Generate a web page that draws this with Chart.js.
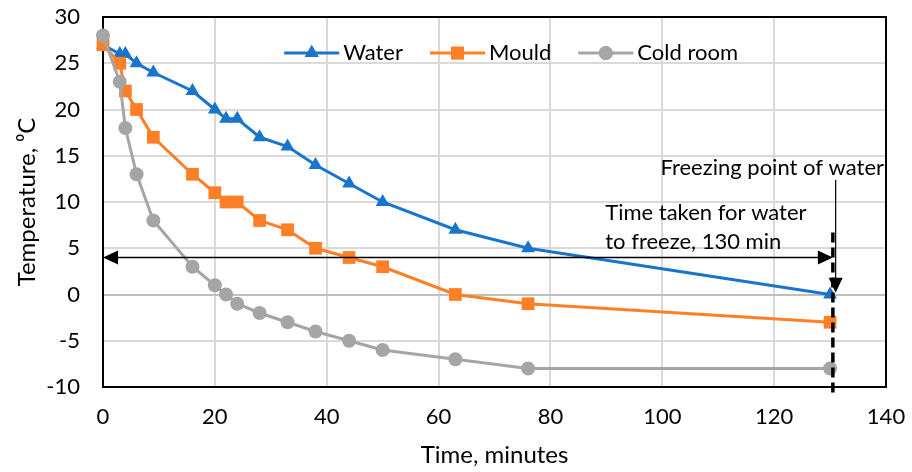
<!DOCTYPE html>
<html>
<head>
<meta charset="utf-8">
<script src="https://cdn.jsdelivr.net/npm/chart.js@4.4.0/dist/chart.umd.min.js"></script>
<style>
  html, body { margin: 0; padding: 0; background: #fff; }
  #wrap { width: 912px; height: 472px; }
</style>
</head>
<body>
<div id="wrap"><canvas id="chart" width="912" height="472"></canvas></div>
<script>
// data
const times    = [0, 3, 4, 6, 9, 16, 20, 22, 24, 28, 33, 38, 44, 50, 63, 76, 130];
const water    = [27, 26, 26, 25, 24, 22, 20, 19, 19, 17, 16, 14, 12, 10, 7, 5, 0];
const mould    = [27, 25, 22, 20, 17, 13, 11, 10, 10, 8, 7, 5, 4, 3, 0, -1, -3];
const coldRoom = [28, 23, 18, 13, 8, 3, 1, 0, -1, -2, -3, -4, -5, -6, -7, -8, -8];
const seriesNames = ['Water', 'Mould', 'Cold room'];
const xTickValues = [0, 20, 40, 60, 80, 100, 120, 140];
const yTickValues = [-10, -5, 0, 5, 10, 15, 20, 25, 30];

// annotation text + anchors (in data units)
const freezeTime = 130.5;
const spanLevel = 4;
const spanNote = ['Time taken for water', 'to freeze, 130 min'];
const freezeNote = 'Freezing point of water';

const FONT = 'Lato, "Open Sans", sans-serif';
const colors = { water: '#1874CD', mould: '#FF7F27', cold: '#A5A5A5' };

const mk = (vals) => times.map((t, i) => ({ x: t, y: vals[i] }));
const datasets = [
    { label: seriesNames[0], data: mk(water), borderColor: colors.water, backgroundColor: colors.water, pointStyle: 'triangle', pointRadius: 8, order: 2 },
    { label: seriesNames[1], data: mk(mould), borderColor: colors.mould, backgroundColor: colors.mould, pointStyle: 'rect', pointRadius: 9, order: 1 },
    { label: seriesNames[2], data: mk(coldRoom), borderColor: colors.cold, backgroundColor: colors.cold, pointStyle: 'circle', pointRadius: 7, order: 0 }
].map(d => Object.assign(d, { showLine: true, borderWidth: 3, pointBorderWidth: 0, pointHoverRadius: d.pointRadius, clip: false, tension: 0 }));

function arrowHead(ctx, x, y, dir, len, half) {
    ctx.beginPath();
    ctx.moveTo(x, y);
    if (dir === 'left') { ctx.lineTo(x + len, y - half); ctx.lineTo(x + len, y + half); }
    if (dir === 'right') { ctx.lineTo(x - len, y - half); ctx.lineTo(x - len, y + half); }
    if (dir === 'down') { ctx.lineTo(x - half, y - len); ctx.lineTo(x + half, y - len); }
    ctx.closePath();
    ctx.fill();
}

const framePlugin = {
    id: 'frame',
    beforeDatasetsDraw(chart) {
        const { ctx, chartArea: a } = chart;
        ctx.save();
        ctx.strokeStyle = '#000'; ctx.lineWidth = 2;
        ctx.strokeRect(a.left, a.top, a.right - a.left, a.bottom - a.top);
        ctx.restore();
    }
};

const notesPlugin = {
    id: 'notes',
    afterDatasetsDraw(chart) {
        const { ctx, chartArea: a, scales: { x, y } } = chart;
        ctx.save();
        ctx.fillStyle = '#000'; ctx.strokeStyle = '#000';

        // legend inside the plot
        ctx.font = '22px ' + FONT;
        ctx.textBaseline = 'middle'; ctx.textAlign = 'left';
        let lx = x.getPixelForValue(32.4);
        const ly = y.getPixelForValue(26.1);
        chart.data.datasets.forEach(ds => {
            ctx.strokeStyle = ds.borderColor; ctx.lineWidth = 3;
            ctx.beginPath(); ctx.moveTo(lx, ly); ctx.lineTo(lx + 55, ly); ctx.stroke();
            ctx.fillStyle = ds.backgroundColor;
            Chart.helpers.drawPoint(ctx, { pointStyle: ds.pointStyle, radius: ds.pointRadius, rotation: 0, borderWidth: 0 }, lx + 27.5, ly);
            ctx.fill();
            ctx.fillStyle = '#000';
            ctx.fillText(ds.label, lx + 59, ly);
            lx += 59 + ctx.measureText(ds.label).width + 27;
        });

        // horizontal double arrow, 0 -> 130 min
        const yS = y.getPixelForValue(spanLevel);
        const x0 = x.getPixelForValue(0), x1 = x.getPixelForValue(freezeTime);
        ctx.strokeStyle = '#000'; ctx.lineWidth = 1.5;
        ctx.beginPath(); ctx.moveTo(x0 + 10, yS); ctx.lineTo(x1 - 10, yS); ctx.stroke();
        arrowHead(ctx, x0, yS, 'left', 15, 7);
        arrowHead(ctx, x1, yS, 'right', 15, 7);

        // thin pointer from the freezing note to the water point
        const xp = x.getPixelForValue(131);
        const yTop = y.getPixelForValue(12.4), yTip = y.getPixelForValue(0.2);
        ctx.lineWidth = 1.2;
        ctx.beginPath(); ctx.moveTo(xp, yTop); ctx.lineTo(xp, yTip - 12); ctx.stroke();
        arrowHead(ctx, xp, yTip, 'down', 15, 7);

        // dashed marker at freezing time
        ctx.lineWidth = 3.5; ctx.setLineDash([10, 5]);
        ctx.beginPath(); ctx.moveTo(x1, y.getPixelForValue(6.7)); ctx.lineTo(x1, y.getPixelForValue(-11.1)); ctx.stroke();
        ctx.setLineDash([]);

        // notes
        ctx.textAlign = 'right';
        ctx.fillText(freezeNote, a.right - 2, y.getPixelForValue(13.7));
        ctx.textAlign = 'left';
        ctx.fillText(spanNote[0], x.getPixelForValue(89.8), y.getPixelForValue(8.8));
        ctx.fillText(spanNote[1], x.getPixelForValue(89.8), y.getPixelForValue(5.7));
        ctx.restore();
    }
};

// tick gap done with invisible tick marks, so it doesn't pad the chart area
new Chart(document.getElementById('chart'), {
    type: 'scatter',
    data: { datasets },
    options: {
        responsive: false,
        animation: false,
        devicePixelRatio: 1,
        layout: { autoPadding: false, padding: { top: 17, right: 26, left: 0, bottom: 0 } },
        plugins: { legend: { display: false }, tooltip: { enabled: false } },
        scales: {
            x: {
                type: 'linear',
                min: xTickValues[0], max: xTickValues[xTickValues.length - 1],
                afterFit: s => { s.height = 85; },
                afterBuildTicks: s => { s.ticks = xTickValues.map(v => ({ value: v })); },
                grid: { color: '#d9d9d9', lineWidth: 2, drawTicks: true, tickLength: 17, tickColor: 'rgba(0,0,0,0)' },
                border: { display: false },
                ticks: { color: '#000', padding: 0, font: { family: FONT, size: 22 } },
                title: { display: true, text: 'Time, minutes', color: '#000', padding: { top: 0, bottom: 2 }, font: { family: FONT, size: 24 } }
            },
            y: {
                type: 'linear',
                min: yTickValues[0], max: yTickValues[yTickValues.length - 1],
                afterFit: s => { s.width = 103; },
                afterBuildTicks: s => { s.ticks = yTickValues.map(v => ({ value: v })); },
                grid: { color: c => c.tick && c.tick.value === 0 ? '#bfbfbf' : '#d9d9d9', lineWidth: 2, drawTicks: true, tickLength: 23, tickColor: 'rgba(0,0,0,0)' },
                border: { display: false },
                ticks: { color: '#000', padding: 0, font: { family: FONT, size: 22 } },
                title: { display: true, text: 'Temperature, \u2070C', color: '#000', padding: { top: 13, bottom: 0 }, font: { family: FONT, size: 24 } }
            }
        }
    },
    plugins: [framePlugin, notesPlugin]
});
</script>
</body>
</html>
